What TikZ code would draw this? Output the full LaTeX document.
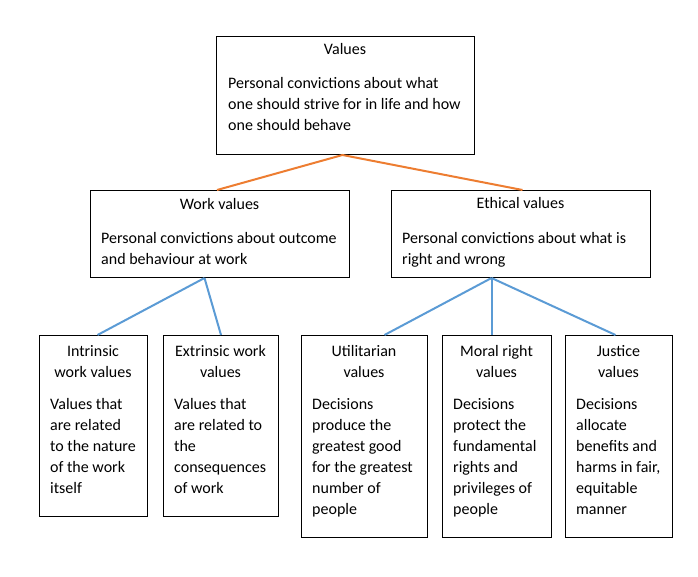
\documentclass[tikz,border=0pt]{standalone}
\usepackage{fontspec}
\setmainfont{Carlito}
\begin{document}
\begin{tikzpicture}[x=1pt,y=-1pt,
  box/.style={draw=black,line width=1pt,inner sep=0pt,anchor=north west},
  ttl/.style={font=\fontsize{16}{21}\selectfont,inner sep=0pt,anchor=mid,align=center},
  body/.style={font=\fontsize{16}{21}\selectfont,inner sep=0pt,anchor=north west,align=left},
  orl/.style={draw={rgb,255:red,237;green,125;blue,49},line width=2pt},
  bll/.style={draw={rgb,255:red,91;green,155;blue,213},line width=2pt}]
\useasboundingbox (0,0) rectangle (698,577);
% boxes
\node[box,minimum width=258pt,minimum height=118pt] (val) at (216,36) {};
\node[box,minimum width=259pt,minimum height=87pt] (work) at (90,190) {};
\node[box,minimum width=259pt,minimum height=87pt] (eth) at (391,190) {};
\node[box,minimum width=108pt,minimum height=181pt] (intr) at (39,335) {};
\node[box,minimum width=115pt,minimum height=181pt] (extr) at (163,335) {};
\node[box,minimum width=126pt,minimum height=202pt] (util) at (301,335) {};
\node[box,minimum width=109pt,minimum height=202pt] (moral) at (442,335) {};
\node[box,minimum width=107pt,minimum height=202pt] (just) at (565,335) {};
% titles
\node[ttl] (valt) at (345,52.5) {Values};
\node[ttl] (workt) at (219.5,207) {Work values};
\node[ttl] (etht) at (520.5,206.5) {Ethical values};
\node[ttl,anchor=north] (intrt) at (93,342) {\strut Intrinsic\\work values};
\node[ttl,anchor=north] (extrt) at (220.5,342) {\strut Extrinsic work\\values};
\node[ttl,anchor=north] (utilt) at (364,342) {\strut Utilitarian\\values};
\node[ttl,anchor=north] (moralt) at (496.5,342) {\strut Moral right\\values};
\node[ttl,anchor=north] (justt) at (618.5,342) {\strut Justice\\values};
% bodies
\node[body] (valb) at (228,73.5) {\strut Personal convictions about what\\one should strive for in life and how\\one should behave};
\node[body] (workb) at (101,228.5) {\strut Personal convictions about outcome\\and behaviour at work};
\node[body] (ethb) at (402,228.5) {\strut Personal convictions about what is\\right and wrong};
\node[body] (intrb) at (50,394.5) {\strut Values that\\are related\\to the nature\\of the work\\itself};
\node[body] (extrb) at (174,394.5) {\strut Values that\\are related to\\the\\consequences\\of work};
\node[body] (utilb) at (312,394.5) {\strut Decisions\\produce the\\greatest good\\for the greatest\\number of\\people};
\node[body] (moralb) at (453,394.5) {\strut Decisions\\protect the\\fundamental\\rights and\\privileges of\\people};
\node[body] (justb) at (576,394.5) {\strut Decisions\\allocate\\benefits and\\harms in fair,\\equitable\\manner};
% connectors
\coordinate (vs) at ([xshift=-3pt]val.south);
\draw[orl] ([xshift=-3pt]work.north) -- (vs) -- ([xshift=1.5pt]eth.north);
\coordinate (ws) at ([xshift=-15.5pt]work.south);
\draw[bll] (ws) -- ([xshift=4pt]intr.north);
\draw[bll] (ws) -- (extr.north);
\coordinate (es) at ([xshift=-29.5pt]eth.south);
\draw[bll] (es) -- ([xshift=20pt]util.north);
\draw[bll] (es) -- ([xshift=-5.5pt]moral.north);
\draw[bll] (es) -- ([xshift=-3.5pt]just.north);
\end{tikzpicture}
\end{document}
